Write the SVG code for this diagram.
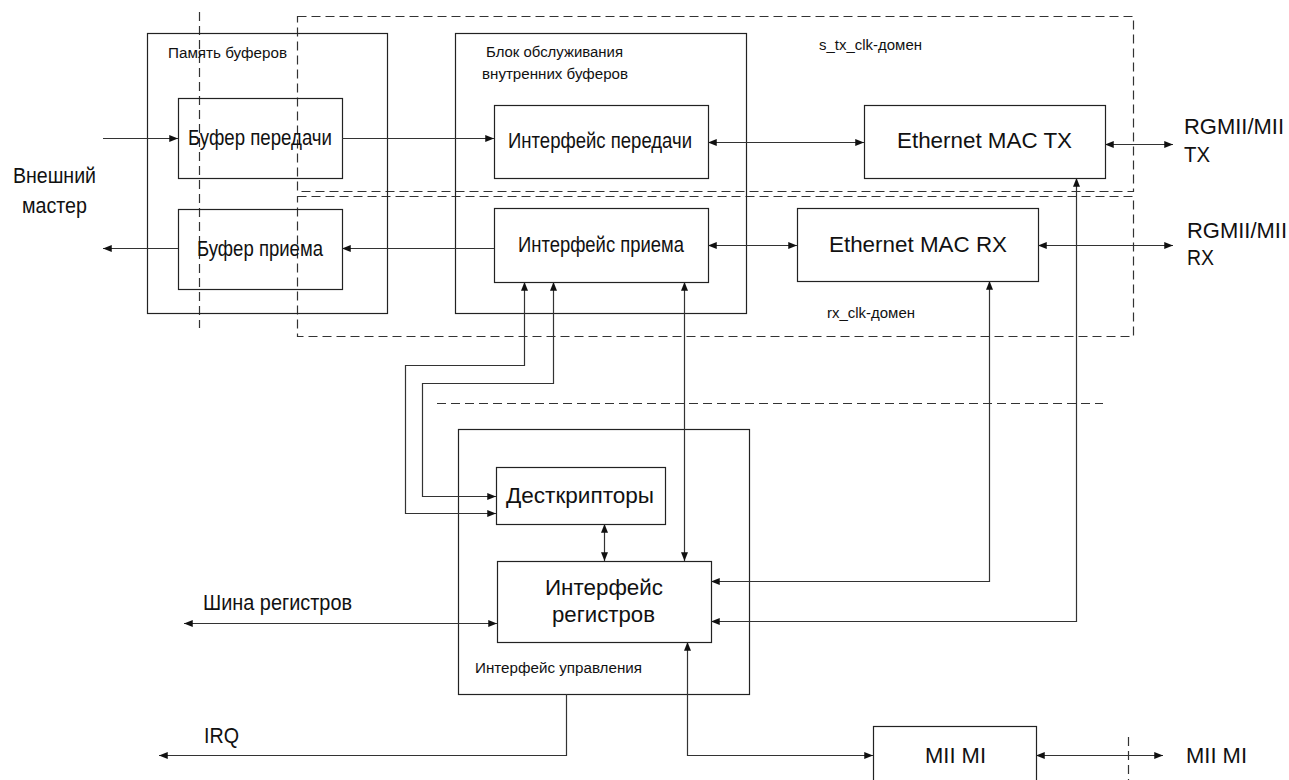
<svg xmlns="http://www.w3.org/2000/svg" width="1289" height="780" viewBox="0 0 1289 780">
<defs>
<marker id="arr" viewBox="0 0 10 8" refX="10" refY="4" markerWidth="10" markerHeight="7" orient="auto-start-reverse" markerUnits="userSpaceOnUse">
<path d="M0,0 L10,4 L0,8 z" fill="#111"/>
</marker>
<style>
.box{fill:none;stroke:#222;stroke-width:1.2}
.dash{fill:none;stroke:#333;stroke-width:1.2;stroke-dasharray:9,5}
.c{fill:none;stroke:#333;stroke-width:1.2}
.e{marker-end:url(#arr)}
.b{marker-start:url(#arr);marker-end:url(#arr)}
text{font-family:"Liberation Sans",Arial,sans-serif;fill:#111}
.L{font-size:22px}
.S{font-size:15.5px}
</style>
</defs>
<rect width="1289" height="780" fill="#fff"/>

<g id="domains">
<line class="dash" x1="199.5" y1="12" x2="199.5" y2="328"/>
<rect class="dash" x="297.5" y="16.5" width="836" height="175"/>
<rect class="dash" x="297.5" y="196.5" width="836" height="140"/>
<line class="dash" x1="437" y1="403.5" x2="1103" y2="403.5"/>
<line class="dash" x1="1128.5" y1="737" x2="1128.5" y2="780"/>
<text class="S" x="819" y="50" textLength="103" lengthAdjust="spacingAndGlyphs">s_tx_clk-домен</text>
<text class="S" x="827" y="318" textLength="88" lengthAdjust="spacingAndGlyphs">rx_clk-домен</text>
</g>

<g id="mem">
<rect class="box" x="147.5" y="33.5" width="240" height="280"/>
<text class="S" x="168" y="58" textLength="119" lengthAdjust="spacingAndGlyphs">Память буферов</text>
</g>
<g id="buf_tx">
<rect class="box" x="178.5" y="98.5" width="164" height="80"/>
<text class="L" x="188" y="145" textLength="144" lengthAdjust="spacingAndGlyphs">Буфер передачи</text>
</g>
<g id="buf_rx">
<rect class="box" x="178.5" y="209.5" width="164" height="80"/>
<text class="L" x="197" y="256" textLength="126" lengthAdjust="spacingAndGlyphs">Буфер приема</text>
</g>

<g id="svc">
<rect class="box" x="455.5" y="33.5" width="291" height="280"/>
<text class="S" x="486" y="57" textLength="137" lengthAdjust="spacingAndGlyphs">Блок обслуживания</text>
<text class="S" x="482" y="79" textLength="146" lengthAdjust="spacingAndGlyphs">внутренних буферов</text>
</g>
<g id="if_tx">
<rect class="box" x="494.5" y="105.5" width="214" height="73"/>
<text class="L" x="508" y="148" textLength="184" lengthAdjust="spacingAndGlyphs">Интерфейс передачи</text>
</g>
<g id="if_rx">
<rect class="box" x="494.5" y="208.5" width="214" height="74"/>
<text class="L" x="518" y="252" textLength="166" lengthAdjust="spacingAndGlyphs">Интерфейс приема</text>
</g>

<g id="mac_tx">
<rect class="box" x="864.5" y="105.5" width="241" height="73"/>
<text class="L" x="897" y="148" textLength="175" lengthAdjust="spacingAndGlyphs">Ethernet MAC TX</text>
</g>
<g id="mac_rx">
<rect class="box" x="797.5" y="208.5" width="241" height="73"/>
<text class="L" x="829" y="252" textLength="178" lengthAdjust="spacingAndGlyphs">Ethernet MAC RX</text>
</g>

<g id="ctrl">
<rect class="box" x="458.5" y="429.5" width="291" height="265"/>
<text class="S" x="475" y="673" textLength="167" lengthAdjust="spacingAndGlyphs">Интерфейс управления</text>
</g>
<g id="desc">
<rect class="box" x="496.5" y="467.5" width="169" height="57"/>
<text class="L" x="506" y="503" textLength="148" lengthAdjust="spacingAndGlyphs">Десткрипторы</text>
</g>
<g id="regs">
<rect class="box" x="497.5" y="561.5" width="214" height="81"/>
<text class="L" x="545" y="595" textLength="118" lengthAdjust="spacingAndGlyphs">Интерфейс</text>
<text class="L" x="552" y="622" textLength="103" lengthAdjust="spacingAndGlyphs">регистров</text>
</g>
<g id="mii">
<rect class="box" x="873.5" y="726.5" width="163" height="60"/>
<text class="L" x="925" y="763" textLength="61" lengthAdjust="spacingAndGlyphs">MII MI</text>
</g>

<g id="labels">
<text class="L" x="13" y="183" textLength="83" lengthAdjust="spacingAndGlyphs">Внешний</text>
<text class="L" x="22" y="213" textLength="65" lengthAdjust="spacingAndGlyphs">мастер</text>
<text class="L" x="1184" y="134" textLength="100" lengthAdjust="spacingAndGlyphs">RGMII/MII</text>
<text class="L" x="1184" y="162" textLength="26" lengthAdjust="spacingAndGlyphs">TX</text>
<text class="L" x="1187" y="238" textLength="100" lengthAdjust="spacingAndGlyphs">RGMII/MII</text>
<text class="L" x="1187" y="265" textLength="27" lengthAdjust="spacingAndGlyphs">RX</text>
<text class="L" x="203" y="610" textLength="149" lengthAdjust="spacingAndGlyphs">Шина регистров</text>
<text class="L" x="204" y="743" textLength="35" lengthAdjust="spacingAndGlyphs">IRQ</text>
<text class="L" x="1186" y="763" textLength="61" lengthAdjust="spacingAndGlyphs">MII MI</text>
</g>

<g id="connectors">
<path class="c e" d="M103,138.5 H178"/>
<path class="c e" d="M342,138.5 H494"/>
<path class="c e" d="M494,248.5 H342"/>
<path class="c e" d="M178,248.5 H103"/>
<path class="c b" d="M708,142.5 H864"/>
<path class="c b" d="M1105,144.5 H1173"/>
<path class="c b" d="M708,245.5 H797"/>
<path class="c b" d="M1038,245.5 H1173"/>
<path class="c b" d="M524.5,282 V365.5 H405.5 V513.5 H496"/>
<path class="c b" d="M553.5,282 V383.5 H422.5 V496.5 H496"/>
<path class="c b" d="M684.5,282 V561"/>
<path class="c b" d="M604.5,524 V561"/>
<path class="c b" d="M989.5,281 V581.5 H711"/>
<path class="c b" d="M1076.5,178 V621.5 H711"/>
<path class="c b" d="M184,623.5 H497"/>
<path class="c e" d="M566.5,694 V755.5 H159"/>
<path class="c b" d="M687.5,642 V755.5 H873"/>
<path class="c b" d="M1036,755.5 H1163"/>
</g>
</svg>
